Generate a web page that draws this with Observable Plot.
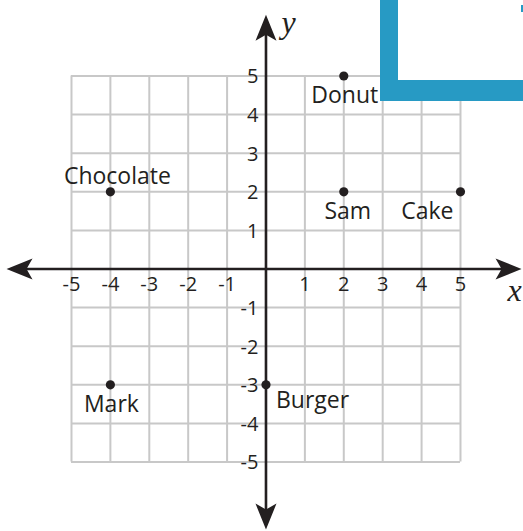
<!DOCTYPE html>
<html>
<head>
<meta charset="utf-8">
<script src="https://cdn.jsdelivr.net/npm/d3@7"></script>
<script src="https://cdn.jsdelivr.net/npm/@observablehq/plot@0.6"></script>
<style>
  html, body { margin: 0; padding: 0; background: #fff; }
  #wrap { position: relative; width: 523px; height: 531px; overflow: hidden; }
  #corner { position: absolute; left: 380px; top: 0; width: 143px; height: 101px; box-sizing: border-box;
            background: #fff; border-left: 18px solid #279ac4; border-bottom: 21px solid #279ac4; }
  #nub { position: absolute; left: 521px; top: 5px; width: 2px; height: 7px; background: #279ac4; }
</style>
</head>
<body>
<div id="wrap"></div>
<script>
// ---- data ----
const names = ["Donut", "Chocolate", "Sam", "Cake", "Mark", "Burger"];
const xs = [2, -4, 2, 5, -4, 0];
const ys = [5, 2, 2, 2, -3, -3];
const xTickLabels = [-5, -4, -3, -2, -1, 1, 2, 3, 4, 5];
const yTickLabels = [-5, -4, -3, -2, -1, 1, 2, 3, 4, 5];
const gridValues = [-5, -4, -3, -2, -1, 0, 1, 2, 3, 4, 5];
const xAxisEnds = [-6.67, 6.57];
const yAxisEnds = [-6.75, 6.59];

const pts = names.map((name, i) => ({name, x: xs[i], y: ys[i]}));
const byName = n => pts.filter(d => d.name === n);

const arrowTips = [
  {x: xAxisEnds[1], y: 0, rot: 0},
  {x: xAxisEnds[0], y: 0, rot: 180},
  {x: 0, y: yAxisEnds[1], rot: -90},
  {x: 0, y: yAxisEnds[0], rot: 90}
];

// arrowhead pointing right with tip at origin
const arrowHead = {
  draw(ctx) {
    ctx.moveTo(0, 0);
    ctx.lineTo(-26, -10.5);
    ctx.lineTo(-20, 0);
    ctx.lineTo(-26, 10.5);
    ctx.closePath();
  }
};

const ink = "#231f20";
const gridColor = "#c8c8c8";
const labelFont = "'Open Sans', sans-serif";

const label = (n, opts) => Plot.text(byName(n), {
  x: "x", y: "y", text: "name", fill: ink, fontSize: 23, lineAnchor: "bottom", ...opts
});

const chart = Plot.plot({
  width: 523,
  height: 531,
  margin: 0,
  x: {domain: [-6.825, 6.62], axis: null},
  y: {domain: [-6.80, 6.956], axis: null},
  style: {fontFamily: labelFont, background: "#fff", overflow: "visible"},
  marks: [
    Plot.ruleX(gridValues, {x: d => d, y1: gridValues[0], y2: gridValues[gridValues.length - 1], stroke: gridColor, strokeWidth: 2}),
    Plot.ruleY(gridValues, {y: d => d, x1: gridValues[0], x2: gridValues[gridValues.length - 1], stroke: gridColor, strokeWidth: 2}),
    Plot.ruleY([0], {x1: xAxisEnds[0] + 0.3, x2: xAxisEnds[1] - 0.3, stroke: ink, strokeWidth: 2.6}),
    Plot.ruleX([0], {y1: yAxisEnds[0] + 0.3, y2: yAxisEnds[1] - 0.3, stroke: ink, strokeWidth: 2.6}),
    Plot.dot(arrowTips, {x: "x", y: "y", rotate: "rot", symbol: arrowHead, fill: ink, stroke: "none", r: 10}),
    Plot.text(xTickLabels, {x: d => d, y: 0, text: d => String(d), dy: 21.5, lineAnchor: "bottom", fontSize: 20, fill: ink}),
    Plot.text(yTickLabels, {x: 0, y: d => d, text: d => String(d), dx: -7.5, dy: 7.3, textAnchor: "end", lineAnchor: "bottom", fontSize: 20, fill: ink}),
    Plot.text([xAxisEnds[1]], {x: d => d, y: 0, text: () => "x", dx: -7, dy: 31.5, lineAnchor: "bottom", fontSize: 32, fontStyle: "italic", fontFamily: "'Liberation Serif', serif", fill: ink}),
    Plot.text([yAxisEnds[1]], {x: 0, y: d => d, text: () => "y", dx: 15.5, dy: 18, textAnchor: "start", lineAnchor: "bottom", fontSize: 32, fontStyle: "italic", fontFamily: "'Liberation Serif', serif", fill: ink}),
    Plot.dot(pts, {x: "x", y: "y", r: 4.6, fill: ink, stroke: "none"}),
    label("Donut", {dx: 1, dy: 27}),
    label("Chocolate", {dx: 7, dy: -8}),
    label("Sam", {dx: 4, dy: 27}),
    label("Cake", {dx: -7, dy: 27, textAnchor: "end"}),
    label("Mark", {dx: 1, dy: 27}),
    label("Burger", {dx: 10, dy: 23, textAnchor: "start"})
  ]
});

const wrap = document.getElementById("wrap");
wrap.appendChild(chart);
const corner = document.createElement("div");
corner.id = "corner";
wrap.appendChild(corner);
const nub = document.createElement("div");
nub.id = "nub";
wrap.appendChild(nub);
</script>
</body>
</html>
